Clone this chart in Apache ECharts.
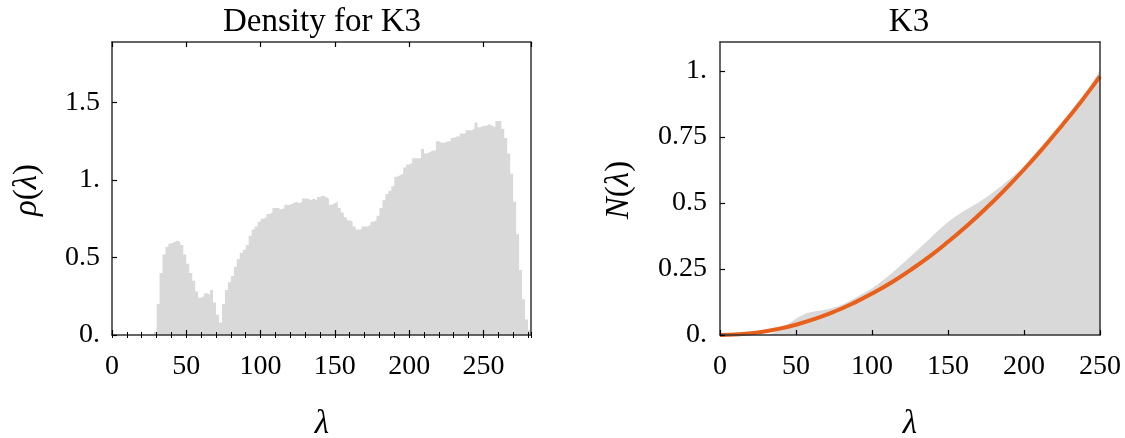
<!DOCTYPE html>
<html><head><meta charset="utf-8">
<script src="https://cdn.jsdelivr.net/npm/echarts@6/dist/echarts.min.js"></script>
<style>html,body{margin:0;padding:0;background:#fff}#c{width:1125px;height:438px}</style>
</head><body><div id="c"></div>
<script>
// ---- Left panel: density histogram (bin width 2, first bin starts at 28)
const densityBinWidth = 2;
const densityFirstBin = 28;
const densityValues = [
  0.02, 0.20, 0.40, 0.52, 0.57, 0.59, 0.60, 0.61, 0.60, 0.58,   // 28-46
  0.52, 0.46, 0.40, 0.35, 0.28, 0.24, 0.25, 0.27, 0.26, 0.29,   // 48-66
  0.21, 0.13, 0.08, 0.20, 0.29, 0.34, 0.38, 0.44, 0.49, 0.53,   // 68-86
  0.55, 0.58, 0.64, 0.68, 0.70, 0.73, 0.75, 0.76, 0.78, 0.79,   // 88-106
  0.82, 0.82, 0.81, 0.82, 0.84, 0.84, 0.85, 0.86, 0.85, 0.86,   // 108-126
  0.88, 0.88, 0.87, 0.88, 0.87, 0.89, 0.90, 0.89, 0.88, 0.84,   // 128-146
  0.85, 0.86, 0.82, 0.79, 0.76, 0.74, 0.73, 0.70, 0.68, 0.68,   // 148-166
  0.70, 0.70, 0.71, 0.73, 0.74, 0.77, 0.82, 0.87, 0.91, 0.93,   // 168-186
  0.96, 1.02, 1.03, 1.04, 1.08, 1.10, 1.11, 1.14, 1.14, 1.14,   // 188-206
  1.20, 1.17, 1.18, 1.19, 1.19, 1.25, 1.24, 1.24, 1.25, 1.25,   // 208-226
  1.27, 1.28, 1.28, 1.30, 1.30, 1.32, 1.32, 1.33, 1.37, 1.34,   // 228-246
  1.35, 1.35, 1.36, 1.35, 1.34, 1.38, 1.38, 1.33, 1.27, 1.17,   // 248-266
  1.04, 0.86, 0.65, 0.42, 0.23, 0.10, 0.03                      // 268-280
];
const leftXTicks = [0, 50, 100, 150, 200, 250];
const leftYTickLabels = {0: '0.', 0.5: '0.5', 1: '1.', 1.5: '1.5'};

// ---- Right panel: counting function N(lambda) and fitted curve
const countLambda = [0, 30, 35, 40, 45, 50, 55, 60, 65, 70, 75, 80, 85, 90, 95, 100,
  110, 120, 130, 140, 150, 160, 170, 180, 190, 200, 210, 220, 230, 240, 250];
const countValues = [0, 0, 0.008, 0.022, 0.042, 0.062, 0.078, 0.087, 0.092, 0.097, 0.104, 0.114, 0.128, 0.144, 0.16, 0.177,
  0.22, 0.27, 0.322, 0.376, 0.428, 0.468, 0.502, 0.542, 0.588, 0.638, 0.697, 0.76, 0.83, 0.91, 1.005];
const fitLambda = [0, 12.5, 25, 37.5, 50, 62.5, 75, 87.5, 100, 112.5, 125, 137.5, 150, 162.5, 175, 187.5, 200, 212.5, 225, 237.5, 250];
const fitValues = [0, 0.0025, 0.0098, 0.022, 0.039, 0.061, 0.088, 0.12, 0.157, 0.198, 0.245, 0.296, 0.353, 0.414, 0.48, 0.551, 0.627, 0.708, 0.794, 0.884, 0.98];
const rightYTickLabels = {0: '0.', 0.25: '0.25', 0.5: '0.5', 0.75: '0.75', 1: '1.'};

const FONT = '"Liberation Serif", "DejaVu Serif", serif';
const FS = 28;
const FS_BIG = 33;
const frameColor = '#333';
const gray = '#d9d9d9';
const orange = '#e8601c';

const histData = [];
densityValues.forEach((v, i) => histData.push([densityFirstBin + i * densityBinWidth, v]));
histData.push([densityFirstBin + densityValues.length * densityBinWidth, 0]);

const countData = countLambda.map((x, i) => [x, countValues[i]]);
const fitData = fitLambda.map((x, i) => [x, fitValues[i]]);

const G1 = {left: 112, top: 42, width: 419, height: 293};
const G2 = {left: 720, top: 42, width: 380, height: 293};

function frameAxis(base) {
  return Object.assign({
    type: 'value', z: 5,
    axisLine: {show: true, onZero: false, lineStyle: {color: frameColor, width: 1.5}},
    axisTick: {show: false}, axisLabel: {show: false}, splitLine: {show: false}
  }, base);
}

const xAxes = [
  frameAxis({gridIndex: 0, position: 'bottom', min: 0, max: 282, interval: 50,
    axisTick: {show: true, inside: true, length: 5, lineStyle: {color: '#000', width: 1.2}},
    axisLabel: {show: true, margin: 18, color: '#000', fontFamily: FONT, fontSize: FS,
      showMaxLabel: false,
      formatter: v => leftXTicks.indexOf(v) >= 0 ? String(v) : ''}}),
  frameAxis({gridIndex: 0, position: 'bottom', min: 0, max: 282, interval: 10,
    axisLine: {show: false},
    axisTick: {show: true, inside: true, length: 3, lineStyle: {color: '#000', width: 1}}}),
  frameAxis({gridIndex: 0, position: 'top', min: 0, max: 282, interval: 50,
    axisTick: {show: true, inside: true, length: 5, lineStyle: {color: '#000', width: 1.2}}}),
  frameAxis({gridIndex: 0, position: 'top', min: 0, max: 282, interval: 10,
    axisLine: {show: false},
    axisTick: {show: true, inside: true, length: 3, lineStyle: {color: '#000', width: 1}}}),
  frameAxis({gridIndex: 1, position: 'bottom', min: 0, max: 250, interval: 50,
    axisTick: {show: true, inside: true, length: 5, lineStyle: {color: '#000', width: 1.2}},
    axisLabel: {show: true, margin: 18, color: '#000', fontFamily: FONT, fontSize: FS}}),
  frameAxis({gridIndex: 1, position: 'top', min: 0, max: 250, interval: 50})
];

const yAxes = [
  frameAxis({gridIndex: 0, position: 'left', min: 0, max: 1.89, interval: 0.5,
    axisTick: {show: true, inside: true, length: 5, lineStyle: {color: '#000', width: 1.2}},
    axisLabel: {show: true, margin: 12, color: '#000', fontFamily: FONT, fontSize: FS,
      showMaxLabel: false,
      formatter: v => leftYTickLabels[v] !== undefined ? leftYTickLabels[v] : ''}}),
  frameAxis({gridIndex: 0, position: 'right', min: 0, max: 1.89, interval: 0.5}),
  frameAxis({gridIndex: 1, position: 'left', min: 0, max: 1.11, interval: 0.25,
    axisTick: {show: true, inside: true, length: 5, lineStyle: {color: '#000', width: 1.2}},
    axisLabel: {show: true, margin: 13, color: '#000', fontFamily: FONT, fontSize: FS,
      showMaxLabel: false,
      formatter: v => rightYTickLabels[v] !== undefined ? rightYTickLabels[v] : ''}}),
  frameAxis({gridIndex: 1, position: 'right', min: 0, max: 1.11, interval: 0.25})
];

const rich = {
  i: {fontFamily: FONT, fontSize: FS_BIG, fontStyle: 'italic', fill: '#000'},
  n: {fontFamily: FONT, fontSize: FS_BIG, fill: '#000'}
};
function txt(x, y, text, rot, richText) {
  return {type: 'text', x: x, y: y, rotation: rot || 0, z: 10,
    style: {text: text, fontFamily: FONT, fontSize: FS_BIG, fill: '#000',
      align: 'center', verticalAlign: 'middle', rich: richText ? rich : undefined}};
}

const chart = echarts.init(document.getElementById('c'), null, {renderer: 'canvas'});
chart.setOption({
  animation: false,
  backgroundColor: '#fff',
  grid: [G1, G2],
  xAxis: xAxes,
  yAxis: yAxes,
  series: [
    {type: 'line', xAxisIndex: 0, yAxisIndex: 0, data: histData, step: 'end',
      symbol: 'none', z: 1, lineStyle: {width: 0, color: gray},
      areaStyle: {color: gray, opacity: 1}},
    {type: 'line', xAxisIndex: 4, yAxisIndex: 2, data: countData, smooth: 0.3,
      symbol: 'none', z: 1, lineStyle: {width: 0, color: gray},
      areaStyle: {color: gray, opacity: 1}},
    {type: 'line', xAxisIndex: 4, yAxisIndex: 2, data: fitData, smooth: true,
      symbol: 'none', z: 3, lineStyle: {width: 4, color: orange}}
  ],
  graphic: [
    txt(322, 22, 'Density for K3'),
    txt(909, 22, 'K3'),
    txt(322, 424, '{i|λ}', 0, true),
    txt(910, 424, '{i|λ}', 0, true),
    txt(27, 190, '{i|ρ}{n|(}{i|λ}{n|)}', Math.PI / 2, true),
    txt(619, 190, '{i|N}{n|(}{i|λ}{n|)}', Math.PI / 2, true)
  ]
});
</script>
</body></html>
